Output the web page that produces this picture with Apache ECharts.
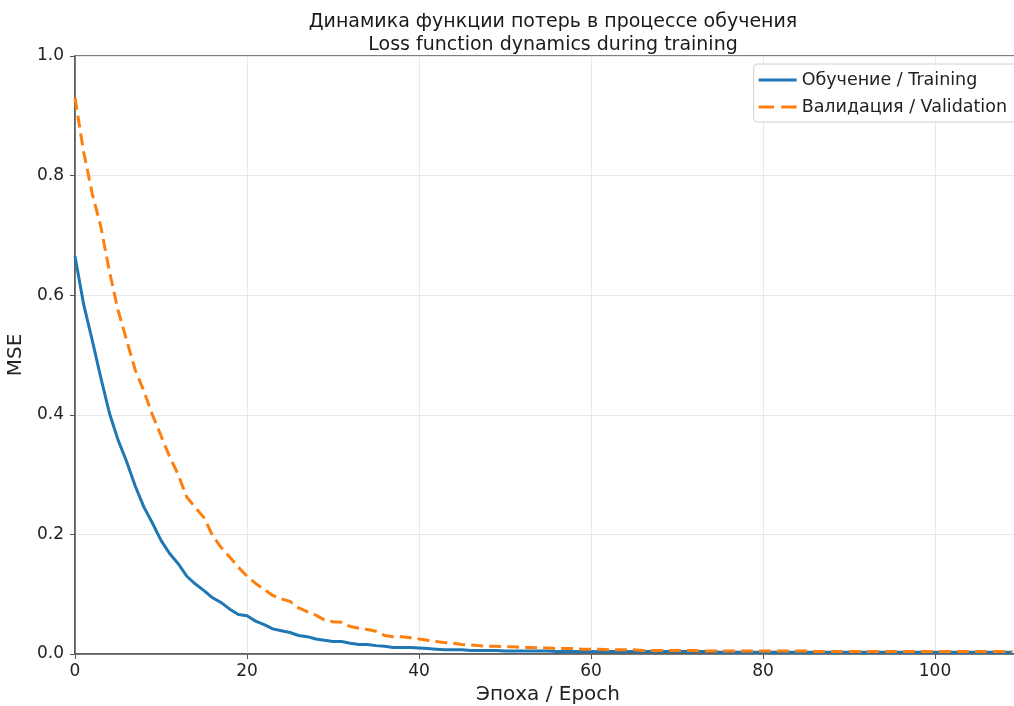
<!DOCTYPE html>
<html>
<head>
<meta charset="utf-8">
<script src="https://cdn.jsdelivr.net/npm/echarts@6/dist/echarts.min.js"></script>
<style>
  html, body { margin: 0; padding: 0; background: #fff; }
  #chart { width: 1014px; height: 706px; }
</style>
</head>
<body>
<div id="chart"></div>
<script>
// значения потерь по эпохам
const epochs = Array.from({ length: 110 }, (_, i) => i);

const trainLoss = [
  0.665, 0.585, 0.525, 0.462, 0.403, 0.358, 0.322, 0.281, 0.246, 0.219,
  0.190, 0.168, 0.151, 0.130, 0.117, 0.106, 0.094, 0.086, 0.075, 0.066,
  0.064, 0.055, 0.049, 0.042, 0.039, 0.036, 0.031, 0.029, 0.025, 0.023,
  0.021, 0.021, 0.018, 0.016, 0.016, 0.014, 0.013, 0.011, 0.011, 0.011,
  0.010, 0.009, 0.008, 0.007, 0.007, 0.007, 0.006, 0.006, 0.006, 0.006,
  0.005, 0.005, 0.005, 0.005, 0.005, 0.005, 0.004, 0.004, 0.004, 0.004,
  0.004, 0.004, 0.004, 0.004, 0.004, 0.004, 0.004, 0.004, 0.004, 0.004,
  0.004, 0.004, 0.004, 0.004, 0.004, 0.003, 0.003, 0.003, 0.003, 0.003,
  0.003, 0.003, 0.003, 0.003, 0.003, 0.003, 0.003, 0.003, 0.003, 0.003,
  0.003, 0.003, 0.003, 0.003, 0.003, 0.003, 0.003, 0.003, 0.003, 0.003,
  0.003, 0.003, 0.003, 0.003, 0.003, 0.003, 0.003, 0.003, 0.003, 0.003
];

const valLoss = [
  0.930, 0.840, 0.770, 0.715, 0.640, 0.575, 0.525, 0.475, 0.440, 0.400,
  0.365, 0.330, 0.300, 0.262, 0.245, 0.228, 0.198, 0.178, 0.162, 0.145,
  0.130, 0.118, 0.108, 0.098, 0.092, 0.088, 0.077, 0.071, 0.065, 0.057,
  0.054, 0.053, 0.046, 0.043, 0.041, 0.038, 0.031, 0.029, 0.029, 0.027,
  0.025, 0.023, 0.021, 0.019, 0.018, 0.016, 0.015, 0.014, 0.013, 0.013,
  0.012, 0.012, 0.011, 0.011, 0.010, 0.010, 0.009, 0.009, 0.009, 0.008,
  0.008, 0.008, 0.007, 0.007, 0.007, 0.007, 0.006, 0.006, 0.006, 0.006,
  0.006, 0.006, 0.006, 0.005, 0.005, 0.005, 0.005, 0.005, 0.005, 0.005,
  0.005, 0.005, 0.005, 0.005, 0.005, 0.005, 0.004, 0.004, 0.004, 0.004,
  0.004, 0.004, 0.004, 0.004, 0.004, 0.004, 0.004, 0.004, 0.004, 0.004,
  0.004, 0.004, 0.004, 0.004, 0.004, 0.004, 0.004, 0.004, 0.004, 0.004
];

const titleLines = ["Динамика функции потерь в процессе обучения", "Loss function dynamics during training"];
const seriesNames = ["Обучение / Training", "Валидация / Validation"];

const font = "DejaVu Sans";
const chart = echarts.init(document.getElementById("chart"), null, { renderer: "canvas" });

const toPairs = (ys) => epochs.map((x, i) => [x, ys[i]]);

// исходная картинка обрезана справа: ось продолжается за край (до 110)
const gridLeft = 75;
const gridRight = -7;
const axesCenter = (gridLeft + 1014 - gridRight) / 2;

chart.setOption({
  animation: false,
  backgroundColor: "#fff",
  textStyle: { fontFamily: font },
  title: {
    text: titleLines.join("\n"),
    left: axesCenter,
    textAlign: "center",
    top: 6,
    textStyle: { fontFamily: font, fontSize: 19, fontWeight: "normal", color: "#1a1a1a", lineHeight: 23 }
  },
  legend: {
    orient: "vertical",
    right: -7,
    top: 64,
    itemWidth: 38,
    itemHeight: 14,
    itemGap: 9,
    itemTextGap: 12,
    padding: [7, 14, 6, 5],
    borderColor: "#d0d0d0",
    borderWidth: 1,
    borderRadius: 4,
    backgroundColor: "rgba(255,255,255,0.85)",
    textStyle: { fontFamily: font, fontSize: 17.5, color: "#222" },
    data: [
      { name: seriesNames[0], icon: "path://M0,0h38v3h-38z" },
      { name: seriesNames[1], icon: "path://M0,0h15v3h-15zM22,0h15v3h-15z" }
    ]
  },
  grid: {
    left: gridLeft,
    right: gridRight,
    top: 56,
    bottom: 52,
    containLabel: false,
    outerBoundsMode: "none",
    show: true,
    borderColor: "#555",
    borderWidth: 1.5
  },
  xAxis: {
    type: "value",
    min: 0,
    max: 110,
    interval: 20,
    name: "Эпоха / Epoch",
    nameLocation: "middle",
    nameGap: 31,
    nameTextStyle: { fontFamily: font, fontSize: 20, color: "#222" },
    axisLine: { lineStyle: { color: "#555", width: 1.5 } },
    axisTick: { length: 5, lineStyle: { color: "#555" } },
    axisLabel: { fontFamily: font, fontSize: 17, color: "#222", margin: 9, showMaxLabel: false },
    splitLine: { show: true, lineStyle: { color: "#e8e8e8", width: 1 } }
  },
  yAxis: {
    type: "value",
    min: 0,
    max: 1,
    interval: 0.2,
    name: "MSE",
    nameLocation: "middle",
    nameGap: 44,
    nameTextStyle: { fontFamily: font, fontSize: 20, color: "#222" },
    axisLine: { show: true, lineStyle: { color: "#555", width: 1.5 } },
    axisTick: { show: true, length: 5, lineStyle: { color: "#555" } },
    axisLabel: { fontFamily: font, fontSize: 17, color: "#222", margin: 11, formatter: (v) => v.toFixed(1) },
    splitLine: { show: true, lineStyle: { color: "#e8e8e8", width: 1 } }
  },
  series: [
    {
      name: seriesNames[0],
      type: "line",
      data: toPairs(trainLoss),
      symbol: "none",
      lineStyle: { color: "#1f77b4", width: 3 },
      itemStyle: { color: "#1f77b4" },
      z: 3
    },
    {
      name: seriesNames[1],
      type: "line",
      data: toPairs(valLoss),
      symbol: "none",
      lineStyle: { color: "#ff7f0e", width: 3, type: [12, 6] },
      itemStyle: { color: "#ff7f0e" },
      z: 4
    }
  ]
});
</script>
</body>
</html>
